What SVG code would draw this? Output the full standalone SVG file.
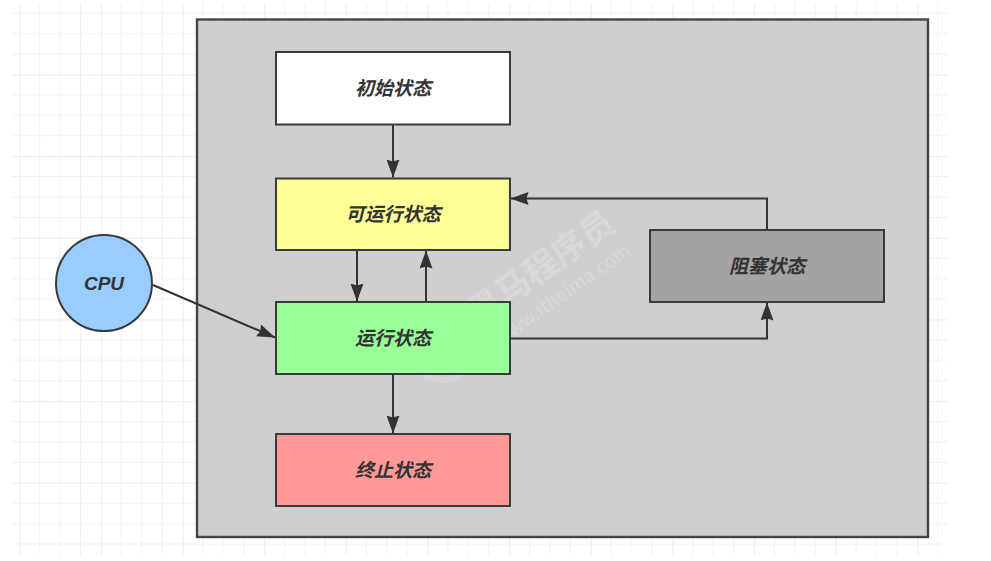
<svg xmlns="http://www.w3.org/2000/svg" width="991" height="561" viewBox="0 0 991 561">
  <style>
    .node { stroke: #3a3a3a; stroke-width: 2; }
    .label { font-family: "Liberation Sans", "Noto Sans CJK SC", sans-serif; font-size: 19px; font-weight: bold; font-style: italic; fill: #333333; text-anchor: middle; dominant-baseline: central; }
    .edge { fill: none; stroke: #333333; stroke-width: 2; }
    .wm { font-family: "Noto Sans CJK SC", sans-serif; fill: #ffffff; fill-opacity: 0.2; }
  </style>
  <defs>
    <pattern id="grid" patternUnits="userSpaceOnUse" x="19.3" y="-7.1" width="81.64" height="81.64">
      <path d="M20.41 0V81.64M40.82 0V81.64M61.23 0V81.64M0 20.41H81.64M0 40.82H81.64M0 61.23H81.64" stroke="#f1f1f1" stroke-width="1" fill="none"/>
      <path d="M0 0V81.64M0 0H81.64" stroke="#e6e6e6" stroke-width="1.4" fill="none"/>
    </pattern>
    <marker id="arrow" viewBox="0 0 18 13" refX="18" refY="6.5" markerWidth="18" markerHeight="13" markerUnits="userSpaceOnUse" orient="auto">
      <path d="M0 0L18 6.5L0 13L2 6.5Z" fill="#333333"/>
    </marker>
  </defs>
  <rect x="0" y="0" width="991" height="561" fill="#ffffff"/>
  <rect x="12" y="3" width="936" height="552" fill="url(#grid)"/>

  <g id="container">
    <rect x="197" y="19.5" width="731" height="517.5" fill="#cfcfcf" stroke="#444444" stroke-width="2.4"/>
  </g>

  <g id="watermark">
    <circle cx="442" cy="346" r="34" fill="none" stroke="#ffffff" stroke-opacity="0.14" stroke-width="6"/>
    <text class="wm" x="0" y="0" font-size="34" font-weight="bold" transform="translate(478 326) rotate(-35)">黑马程序员</text>
    <text class="wm" x="0" y="0" font-size="19" transform="translate(500 346) rotate(-35)">www.itheima.com</text>
  </g>

  <g id="edges">
    <line class="edge" x1="393" y1="125" x2="393" y2="177.5" marker-end="url(#arrow)"/>
    <line class="edge" x1="357" y1="250" x2="357" y2="301.5" marker-end="url(#arrow)"/>
    <line class="edge" x1="426" y1="302" x2="426" y2="250.5" marker-end="url(#arrow)"/>
    <line class="edge" x1="393" y1="374" x2="393" y2="433.5" marker-end="url(#arrow)"/>
    <polyline class="edge" points="511,338.5 767,338.5 767,302.5" marker-end="url(#arrow)"/>
    <polyline class="edge" points="767,230 767,198.5 510.5,198.5" marker-end="url(#arrow)"/>
    <line class="edge" x1="153" y1="285" x2="275" y2="337.5" marker-end="url(#arrow)"/>
  </g>

  <g id="node-init">
    <rect class="node" x="276" y="52" width="234" height="72.5" fill="#ffffff"/>
    <text class="label" x="393" y="88">初始状态</text>
  </g>
  <g id="node-runnable">
    <rect class="node" x="276" y="178.5" width="234" height="71.5" fill="#ffff99"/>
    <text class="label" x="393" y="214">可运行状态</text>
  </g>
  <g id="node-running">
    <rect class="node" x="276" y="302" width="234" height="72" fill="#99ff99"/>
    <text class="label" x="393" y="338">运行状态</text>
  </g>
  <g id="node-terminated">
    <rect class="node" x="276" y="434" width="234" height="72" fill="#ff9999"/>
    <text class="label" x="393" y="470">终止状态</text>
  </g>
  <g id="node-blocked">
    <rect class="node" x="650" y="230" width="234" height="72" fill="#a3a3a3"/>
    <text class="label" x="767" y="266">阻塞状态</text>
  </g>
  <g id="node-cpu">
    <circle class="node" cx="104" cy="283" r="48" fill="#99ccff"/>
    <text class="label" x="104" y="283">CPU</text>
  </g>
</svg>
